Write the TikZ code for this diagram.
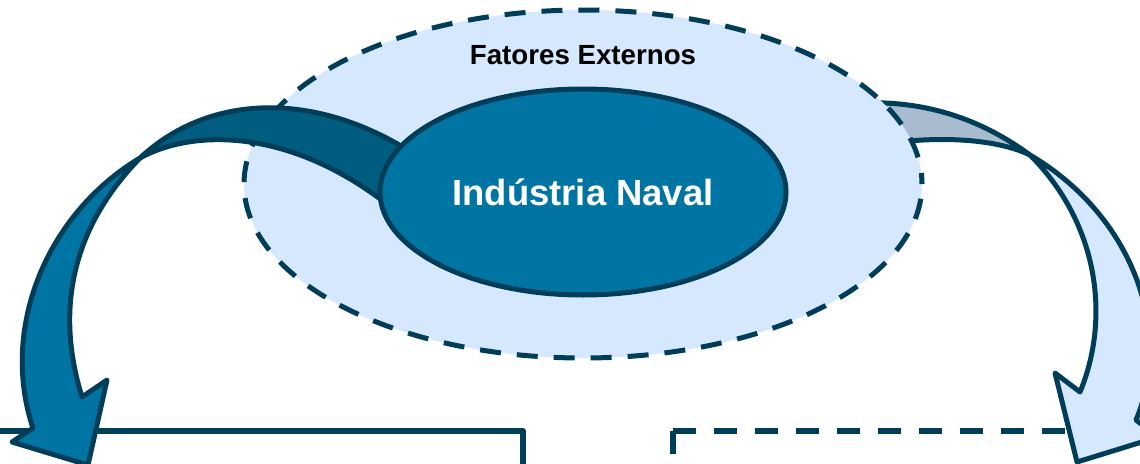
\documentclass[tikz,border=0pt]{standalone}
\usepackage{fontspec}
\setmainfont{Liberation Sans}
\usetikzlibrary{shapes.geometric}
\definecolor{navyline}{HTML}{003D58}
\definecolor{tealfill}{HTML}{0075A3}
\definecolor{tealback}{HTML}{005D80}
\definecolor{paleblue}{HTML}{D6E8FE}
\definecolor{greyback}{HTML}{A8BBCF}
\tikzset{outline/.style={draw=navyline,line width=5pt,line join=round},
  extell/.style={ellipse,outline,fill=paleblue,dash pattern=on 21pt off 16pt,dash phase=10pt,
    minimum width=678pt,minimum height=348pt,inner sep=0pt},
  navell/.style={ellipse,outline,fill=tealfill,minimum width=406pt,minimum height=206pt,
    inner sep=0pt,text=white,font=\bfseries\fontsize{36.4}{40}\selectfont},
  boxline/.style={draw=navyline,line width=5.5pt,line join=round}}

\begin{document}
\begin{tikzpicture}[x=1pt,y=-1pt]
    \useasboundingbox (0,0) rectangle (1140,463);
    \coordinate (lcorner) at (523,431);
    \coordinate (rcorner) at (673,431);
    \draw[boxline] (-10,431) -- (lcorner) -- (523,475);
    \draw[boxline,dash pattern=on 23pt off 18pt] (rcorner) -- (673,475);
    \draw[boxline,dash pattern=on 23pt off 18pt] (rcorner) -- (1110,431);
    \path[outline,fill=greyback] (1030,155) .. controls (985,122) and (930,100) .. (860,103)
      -- (860,148) .. controls (930,134) and (995,138) .. (1030,155) -- cycle;
    \path[outline,fill=paleblue] (1030,155) .. controls (1132,215) and (1174,330) .. (1136,420)
      -- (1158,437) -- (1077,462) -- (1055,373) -- (1080,392)
      .. controls (1110,320) and (1100,225) .. (1030,155) -- cycle;
    \node[extell] (externos) at (583,184) {};
    \path[outline,fill=tealback] (140,158) .. controls (215,88) and (330,92) .. (430,165)
      -- (415,228) .. controls (310,130) and (200,125) .. (140,158) -- cycle;
    \path[outline,fill=tealfill] (140,158) .. controls (45,215) and (0,330) .. (33,428)
      -- (12,442) -- (88,465) -- (107,380) -- (82,397)
      .. controls (58,320) and (65,235) .. (140,158) -- cycle;
    \node[navell] (naval) at (583,192) {Indústria Naval};
    \node[anchor=base,font=\bfseries\fontsize{27.7}{30}\selectfont] (fatores) at (583,64) {Fatores Externos};
\end{tikzpicture}
\end{document}
